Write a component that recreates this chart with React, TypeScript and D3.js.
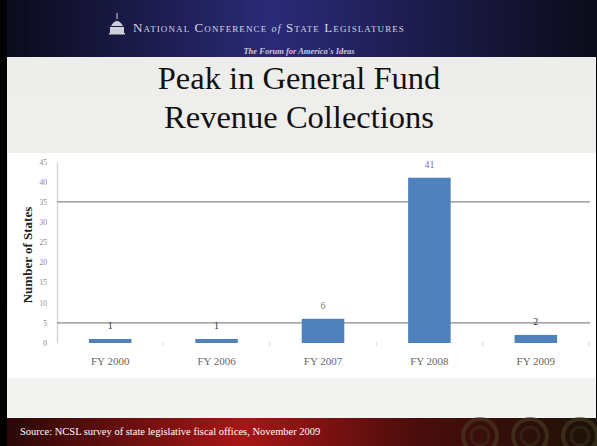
import React, { useEffect, useRef } from 'react';
import * as d3 from 'd3';

const categories = ['FY 2000', 'FY 2006', 'FY 2007', 'FY 2008', 'FY 2009'];
const states = [1, 1, 6, 41, 2];
const yTicks = [0, 5, 10, 15, 20, 25, 30, 35, 40, 45];
const gridLines = [5, 35];

const W = 597;
const H = 446;
const SERIF = "'Liberation Serif', 'Times New Roman', Times, 'DejaVu Serif', serif";

export default function App() {
  const ref = useRef<SVGSVGElement>(null);

  useEffect(() => {
    const svg = d3.select(ref.current);
    svg.selectAll('*').remove();

    const defs = svg.append('defs');
    const hg = defs.append('linearGradient').attr('id', 'hdr');
    hg.append('stop').attr('offset', '0%').attr('stop-color', '#0b0b1c');
    hg.append('stop').attr('offset', '45%').attr('stop-color', '#2b2a78');
    hg.append('stop').attr('offset', '100%').attr('stop-color', '#0b0b1a');
    const fg = defs.append('linearGradient').attr('id', 'ftr');
    fg.append('stop').attr('offset', '0%').attr('stop-color', '#2a0808');
    fg.append('stop').attr('offset', '40%').attr('stop-color', '#a81616');
    fg.append('stop').attr('offset', '70%').attr('stop-color', '#4a0c0c');
    fg.append('stop').attr('offset', '100%').attr('stop-color', '#1c1208');
    const bg = defs.append('linearGradient').attr('id', 'slide').attr('x2', 0).attr('y2', 1);
    bg.append('stop').attr('offset', '0%').attr('stop-color', '#ededeb');
    bg.append('stop').attr('offset', '100%').attr('stop-color', '#f3f3f1');

    // slide frame
    svg.append('rect').attr('width', W).attr('height', H).attr('fill', '#000');
    svg.append('rect').attr('x', 7).attr('y', 57).attr('width', W - 8).attr('height', 361).attr('fill', 'url(#slide)');
    svg.append('rect').attr('x', 7).attr('y', 0).attr('width', W - 7).attr('height', 57).attr('fill', 'url(#hdr)');
    svg.append('rect').attr('x', 7).attr('y', 418).attr('width', W - 7).attr('height', 28).attr('fill', 'url(#ftr)');

    // footer ornaments
    [480, 530, 580].forEach((cx) => {
      svg.append('circle').attr('cx', cx).attr('cy', 436).attr('r', 17)
        .attr('fill', 'none').attr('stroke', '#4a3e26').attr('stroke-width', 4).attr('opacity', 0.6);
      svg.append('circle').attr('cx', cx).attr('cy', 436).attr('r', 9)
        .attr('fill', 'none').attr('stroke', '#3e3420').attr('stroke-width', 3).attr('opacity', 0.5);
    });

    // header text
    const head = svg.append('text').attr('x', 269).attr('y', 32).attr('text-anchor', 'middle')
      .attr('fill', '#d6d6e2').attr('font-family', SERIF).attr('font-size', 13)
      .style('font-variant', 'small-caps').attr('letter-spacing', 1.1);
    head.append('tspan').text('National Conference ');
    head.append('tspan').attr('font-style', 'italic').attr('font-size', 10).style('font-variant', 'normal').text('of');
    head.append('tspan').text(' State Legislatures');

    // capitol icon
    const ic = svg.append('g').attr('fill', '#d0d0dc').attr('transform', 'translate(117,22)');
    ic.append('path').attr('d', 'M-6,4 Q0,-6 6,4 Z');
    ic.append('rect').attr('x', -0.5).attr('y', -9).attr('width', 1).attr('height', 6);
    ic.append('rect').attr('x', -7).attr('y', 5).attr('width', 14).attr('height', 6);
    ic.append('rect').attr('x', -8).attr('y', 11).attr('width', 16).attr('height', 1.5);

    svg.append('text').attr('x', 299).attr('y', 54).attr('text-anchor', 'middle')
      .attr('fill', '#c8c8d4').attr('font-family', SERIF).attr('font-size', 8.5)
      .attr('font-style', 'italic').attr('font-weight', 'bold').text("The Forum for America's Ideas");

    // title
    const title = ['Peak in General Fund', 'Revenue Collections'];
    title.forEach((t, i) => {
      svg.append('text').attr('x', 299).attr('y', 89 + i * 39).attr('text-anchor', 'middle')
        .attr('font-family', SERIF).attr('font-size', 32.5).attr('fill', '#111').text(t);
    });

    // chart area
    svg.append('rect').attr('x', 8).attr('y', 153).attr('width', W - 9).attr('height', 225).attr('fill', '#fff');

    const margin = { left: 57, right: 8 };
    const x = d3.scaleBand().domain(categories).range([margin.left, W - margin.right]).paddingInner(0.6).paddingOuter(0.3);
    const band = d3.scaleBand().domain(categories).range([margin.left, W - margin.right]);
    const y = d3.scaleLinear().domain([0, 45]).range([343, 161.6]);

    const g = svg.append('g');

    // y axis
    const ya = g.append('g').attr('transform', `translate(${margin.left},0)`)
      .call(d3.axisLeft(y).tickValues(yTicks).tickSize(0).tickPadding(10));
    ya.select('.domain').attr('stroke', '#d4d4d4').attr('stroke-width', 1.5);
    ya.selectAll('text').attr('fill', '#8a8a8a').attr('font-size', 7.5).attr('font-family', SERIF);

    // grid lines
    g.selectAll('line.grid').data(gridLines).enter().append('line').attr('class', 'grid')
      .attr('x1', margin.left).attr('x2', W - 7)
      .attr('y1', (d) => y(d)).attr('y2', (d) => y(d))
      .attr('stroke', '#8a8a8a').attr('stroke-width', 1.2);

    // x category ticks
    const bounds = categories.map((c) => band(c) as number).concat([W - margin.right]);
    g.selectAll('line.xt').data(bounds.slice(1)).enter().append('line').attr('class', 'xt')
      .attr('x1', (d) => d).attr('x2', (d) => d).attr('y1', 342).attr('y2', 346)
      .attr('stroke', '#d8d8d8');

    // bars
    g.selectAll('rect.bar').data(states).enter().append('rect').attr('class', 'bar')
      .attr('x', (_, i) => x(categories[i]) as number)
      .attr('width', x.bandwidth())
      .attr('y', (d) => y(d))
      .attr('height', (d) => y(0) - y(d))
      .attr('fill', '#4f81bd');

    // value labels
    g.selectAll('text.val').data(states).enter().append('text').attr('class', 'val')
      .attr('x', (_, i) => (x(categories[i]) as number) + x.bandwidth() / 2)
      .attr('y', (d) => y(d) - 10)
      .attr('text-anchor', 'middle').attr('font-family', SERIF)
      .attr('font-size', 10).attr('fill', (d) => (d > 2 ? '#777' : '#333'))
      .text((d) => d);

    // x labels
    g.selectAll('text.cat').data(categories).enter().append('text').attr('class', 'cat')
      .attr('x', (d) => (x(d) as number) + x.bandwidth() / 2)
      .attr('y', 365).attr('text-anchor', 'middle')
      .attr('font-family', SERIF).attr('font-size', 11).attr('fill', '#666')
      .text((d) => d);

    // y axis title
    svg.append('text').attr('transform', 'translate(32,255) rotate(-90)').attr('text-anchor', 'middle')
      .attr('font-family', SERIF).attr('font-size', 13).attr('font-weight', 'bold')
      .attr('fill', '#222').text('Number of States');

    // source
    svg.append('text').attr('x', 20).attr('y', 435).attr('font-family', SERIF)
      .attr('font-size', 10.5).attr('fill', '#fff')
      .text('Source: NCSL survey of state legislative fiscal offices, November 2009');
  }, []);

  return (
    <svg ref={ref} width={W} height={H} style={{ position: 'absolute', left: 0, top: 0 }} />
  );
}
